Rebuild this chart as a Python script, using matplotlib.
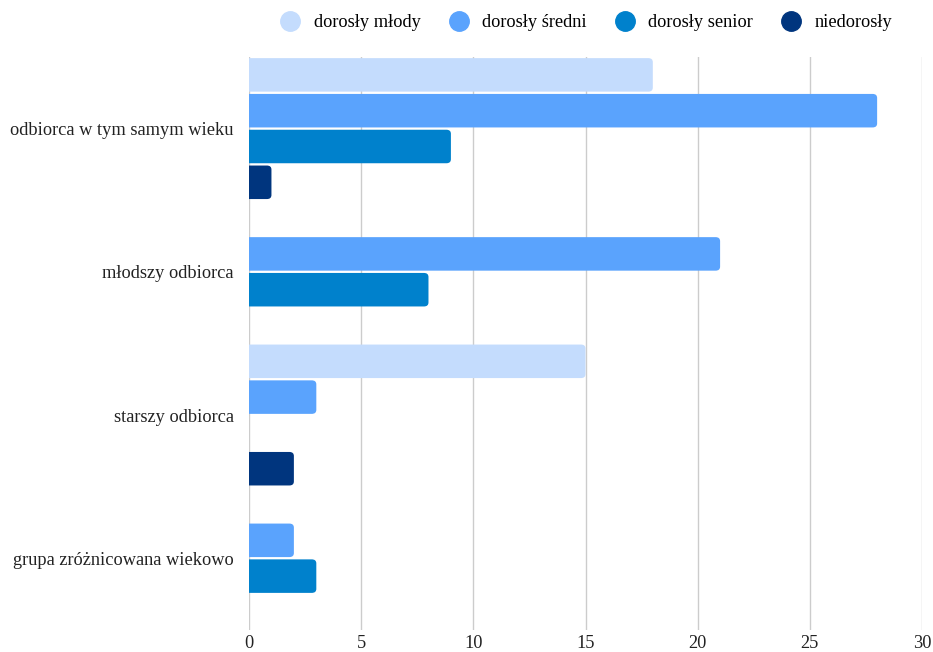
import numpy as np
import matplotlib.pyplot as plt
from matplotlib.lines import Line2D
from matplotlib.patches import FancyBboxPatch

categories = ["odbiorca w tym samym wieku", "młodszy odbiorca",
              "starszy odbiorca", "grupa zróżnicowana wiekowo"]
series = ["dorosły młody", "dorosły średni", "dorosły senior", "niedorosły"]
dorosly_mlody = [18, 0, 15, 0]
dorosly_sredni = [28, 21, 3, 2]
dorosly_senior = [9, 8, 0, 3]
niedorosly = [1, 0, 2, 0]
colors = ["#c4dcfd", "#5aa3fd", "#0081cc", "#00357e"]

plt.rcParams["font.family"] = ["Liberation Serif", "DejaVu Serif"]

fig = plt.figure(figsize=(9.33, 6.52), dpi=100)
ax = fig.add_axes([0.2669, 0.034, 0.7213, 0.8786])

ax.set_xlim(0, 30)
ax.set_ylim(len(categories) - 0.5, -0.5)

y = np.arange(len(categories))
h = 0.25
r = 0.2  # corner radius in x units
for i, (vals, c) in enumerate(zip([dorosly_mlody, dorosly_sredni, dorosly_senior, niedorosly], colors)):
    bars = ax.barh(y + (i - 1.5) * h, vals, height=h, color=c)
    # swap the plain bars for ones with rounded right ends
    for b in bars:
        b.set_visible(False)
        if b.get_width() <= 0:
            continue
        gap = 0.008
        box = FancyBboxPatch((b.get_x() - 1, b.get_y() + gap), b.get_width() + 1,
                             b.get_height() - 2 * gap,
                             boxstyle=f"round,pad=0,rounding_size={r}",
                             mutation_aspect=0.14, facecolor=c, edgecolor="none",
                             zorder=3)
        ax.add_patch(box)

ax.set_xticks(range(0, 31, 5))
ax.set_yticks(y)
ax.set_yticklabels(categories)
ax.tick_params(axis="both", length=0, labelsize=13.2, colors="#222222")
ax.tick_params(axis="x", pad=4)
ax.tick_params(axis="y", pad=11)
ax.grid(axis="x", color="#cccccc", linewidth=1, zorder=0)
for s in ax.spines.values():
    s.set_visible(False)

handles = [Line2D([], [], marker="o", linestyle="", markersize=14,
                  markerfacecolor=c, markeredgecolor=c) for c in colors]
fig.legend(handles, series, loc="center", bbox_to_anchor=(0.624, 0.965), ncol=4,
           frameon=False, fontsize=13.2, handletextpad=0.3, columnspacing=1.05)

fig.savefig("out.png", dpi=100)
